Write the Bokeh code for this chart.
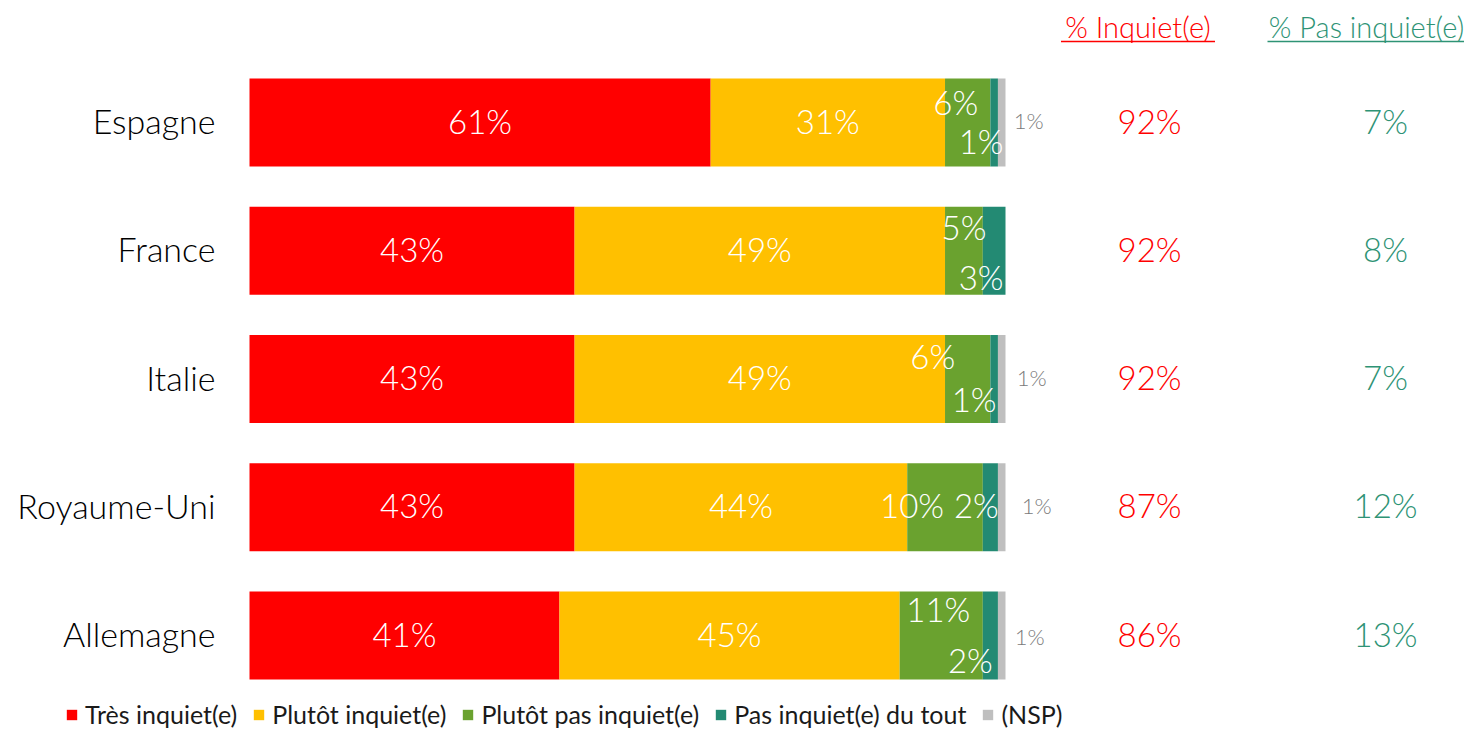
from bokeh.plotting import figure
from bokeh.models import ColumnDataSource, Range1d, Legend, LegendItem
from bokeh.core.properties import value
from bokeh.embed import file_html
from bokeh.resources import INLINE

# ---------------- data ----------------
countries = ["Espagne", "France", "Italie", "Royaume-Uni", "Allemagne"]
tres_inquiet = [61, 43, 43, 43, 41]
plutot_inquiet = [31, 49, 49, 44, 45]
plutot_pas_inquiet = [6, 5, 6, 10, 11]
pas_inquiet_du_tout = [1, 3, 1, 2, 2]
nsp = [1, 0, 1, 1, 1]
total_inquiet = [92, 92, 92, 87, 86]
total_pas_inquiet = [7, 8, 7, 12, 13]
series_names = ["Très inquiet(e)", "Plutôt inquiet(e)", "Plutôt pas inquiet(e)",
                "Pas inquiet(e) du tout", "(NSP)"]
header_inquiet = "% Inquiet(e)"
header_pas_inquiet = "% Pas inquiet(e)"

# ---------------- styles ----------------
colors = ["#FF0000", "#FFC000", "#6AA22F", "#238A73", "#BFBFBF"]
red_txt = "#FF0000"
teal_txt = "#2E9375"
FONT = value("Lato Light")
PX = 7.56          # pixels per percentage point
ROW = 128.25       # pixels per row

# label nudges in px (dx, dy) per (row, series) for crowded small segments
nudges = {
    (0, 2): (-12, -19), (0, 3): (-13, 20), (0, 4): (27, 0),
    (1, 2): (0, -22), (1, 3): (-13, 28),
    (2, 2): (-35, -21), (2, 3): (-20, 22), (2, 4): (30, 0),
    (3, 2): (-33, 0), (3, 3): (-14, 0), (3, 4): (35, 0),
    (4, 2): (-3, -25), (4, 3): (-20, 26), (4, 4): (28, 3),
}

W, H = 1464, 731
x0 = (0 - 249) / PX
x1 = x0 + W / PX
ytop = (122 - 0) / ROW
ybot = ytop - H / ROW

p = figure(width=W, height=H, output_backend="svg", toolbar_location=None,
           x_range=Range1d(x0, x1), y_range=Range1d(ybot, ytop),
           min_border=0, outline_line_color=None)
p.axis.visible = False
p.grid.visible = False

keys = ["tres", "plutot", "plutot_pas", "pas", "nsp"]
ys = [-i for i in range(len(countries))]
src = ColumnDataSource(dict(y=ys, tres=tres_inquiet, plutot=plutot_inquiet,
                            plutot_pas=plutot_pas_inquiet, pas=pas_inquiet_du_tout,
                            nsp=nsp))
renderers = p.hbar_stack(keys, y="y", height=88 / ROW, color=colors, source=src,
                         line_color=None)

# segment labels
series_vals = [tres_inquiet, plutot_inquiet, plutot_pas_inquiet, pas_inquiet_du_tout, nsp]
lx, ly, lt, ldx, ldy = [], [], [], [], []
gx, gy, gt, gdx, gdy = [], [], [], [], []
for i in range(len(countries)):
    start = 0
    for s, vals in enumerate(series_vals):
        v = vals[i]
        if v > 0:
            dx, dy = nudges.get((i, s), (0, 0))
            if s == 4:
                gx.append(start + v / 2); gy.append(ys[i]); gt.append(f"{v}%")
                gdx.append(dx); gdy.append(dy - 2)
            else:
                lx.append(start + v / 2); ly.append(ys[i]); lt.append(f"{v}%")
                ldx.append(dx); ldy.append(dy - 2)
        start += v
lsrc = ColumnDataSource(dict(x=lx, y=ly, t=lt, dx=ldx, dy=ldy))
p.text(x="x", y="y", text="t", x_offset="dx", y_offset="dy", text_color="#FFFFFF",
       text_font_size="33px", text_font=FONT, text_align="center",
       text_baseline="middle", source=lsrc)
gsrc = ColumnDataSource(dict(x=gx, y=gy, t=gt, dx=gdx, dy=gdy))
p.text(x="x", y="y", text="t", x_offset="dx", y_offset="dy", text_color="#7A7A7A",
       text_font_size="22px", text_font=FONT, text_align="center",
       text_baseline="middle", source=gsrc)

# category labels
p.text(x=[(215 - 249) / PX] * len(countries), y=ys, text=countries, y_offset=-2,
       text_font=FONT, text_font_size="34px", text_color="#000000",
       text_align="right", text_baseline="middle")

# total columns
xc_inq = (1149 - 249) / PX
xc_pas = (1385 - 249) / PX
p.text(x=[xc_inq] * len(countries), y=ys, text=[f"{v}%" for v in total_inquiet],
       y_offset=-2, text_font=FONT, text_font_size="33px", text_color=red_txt,
       text_align="center", text_baseline="middle")
p.text(x=[xc_pas] * len(countries), y=ys, text=[f"{v}%" for v in total_pas_inquiet],
       y_offset=-2, text_font=FONT, text_font_size="33px", text_color=teal_txt,
       text_align="center", text_baseline="middle")

# headers with underline
yh = (122 - 26) / ROW
yu = (122 - 41) / ROW
hc_inq = (1137.5 - 249) / PX
hc_pas = (1366 - 249) / PX
p.text(x=[hc_inq], y=[yh], text=[header_inquiet], text_font=FONT,
       text_font_size="29px", text_color=red_txt, text_align="center",
       text_baseline="middle")
p.text(x=[hc_pas], y=[yh], text=[header_pas_inquiet], text_font=FONT,
       text_font_size="29px", text_color=teal_txt, text_align="center",
       text_baseline="middle")
p.segment(x0=[hc_inq - 77 / PX, hc_pas - 99 / PX], y0=[yu, yu],
          x1=[hc_inq + 77 / PX, hc_pas + 99 / PX], y1=[yu, yu],
          line_color=[red_txt, teal_txt], line_width=1.5)

legend = Legend(items=[LegendItem(label=n, renderers=[r]) for n, r in zip(series_names, renderers)],
                orientation="horizontal", location=(65, 2),
                label_text_font="Lato", label_text_font_size="25px",
                label_text_color="#1A1A1A",
                glyph_width=13, glyph_height=13, label_height=22, label_standoff=7,
                spacing=15, padding=0, margin=0,
                border_line_alpha=0, background_fill_alpha=0)
p.add_layout(legend)

open("out.html", "w").write(file_html(p, INLINE))
